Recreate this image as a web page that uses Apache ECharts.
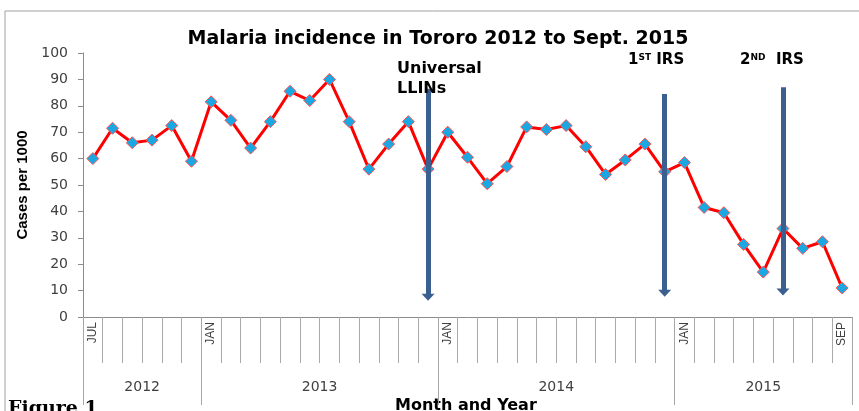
<!DOCTYPE html>
<html>
<head>
<meta charset="utf-8">
<script src="https://cdn.jsdelivr.net/npm/echarts@6/dist/echarts.min.js"></script>
<style>
  html, body { margin: 0; padding: 0; background: #fff; }
  #chart { width: 859px; height: 411px; }
</style>
</head>
<body>
<div id="chart"></div>
<script>
// months Jul 2012 .. Sep 2015
var monthNames = ['JUL','AUG','SEP','OCT','NOV','DEC',
  'JAN','FEB','MAR','APR','MAY','JUN','JUL','AUG','SEP','OCT','NOV','DEC',
  'JAN','FEB','MAR','APR','MAY','JUN','JUL','AUG','SEP','OCT','NOV','DEC',
  'JAN','FEB','MAR','APR','MAY','JUN','JUL','AUG','SEP']
var monthYears = [2012,2012,2012,2012,2012,2012,
  2013,2013,2013,2013,2013,2013,2013,2013,2013,2013,2013,2013,
  2014,2014,2014,2014,2014,2014,2014,2014,2014,2014,2014,2014,
  2015,2015,2015,2015,2015,2015,2015,2015,2015]
var shownMonthIdx = [0, 6, 18, 30, 38]

var incidence = [60, 71.5, 66, 67, 72.5, 59,
  81.5, 74.5, 64, 74, 85.5, 82, 90, 74, 56, 65.5, 74, 56,
  70, 60.5, 50.5, 57, 72, 71, 72.5, 64.5, 54, 59.5, 65.5, 55,
  58.5, 41.5, 39.5, 27.5, 17, 33.5, 26, 28.5, 11]

var years = ['2012', '2013', '2014', '2015']
var yearBounds = [0, 6, 18, 30, 39]
var yearCenters = [3, 12, 24, 34.5]

// interventions: category key, top, bottom (cases per 1000)
var interventions = [
  ['DEC 2013', 86.5, 7.5],
  ['DEC 2014', 84.5, 9],
  ['JUN 2015', 87, 9.5]
]

var categories = monthNames.map(function (m, i) { return m + ' ' + monthYears[i] })

var chart = echarts.init(document.getElementById('chart'))

var gray = '#8c8c8c'
var labelFont = 'DejaVu Sans'
var boldFont = 'DejaVu Sans'

var option = {
  animation: false,
  textStyle: { fontFamily: 'Liberation Sans' },
  title: {
    text: 'Malaria incidence in Tororo 2012 to Sept. 2015',
    left: 433, top: 25, textAlign: 'center',
    textStyle: { fontSize: 19, fontWeight: 'bold', color: '#000', fontFamily: boldFont }
  },
  grid: { left: 83, right: 7, top: 53, bottom: 94 },
  xAxis: [{
    type: 'category',
    data: categories,
    boundaryGap: true,
    axisLine: { show: true, lineStyle: { color: gray, width: 1 } },
    axisTick: { show: true, interval: 0, length: 46, lineStyle: { color: '#aaaaaa', width: 1 } },
    axisLabel: {
      interval: 0, rotate: 90, margin: 5,
      fontSize: 12, color: '#404040', fontFamily: 'Liberation Sans',
      formatter: function (v, i) { return shownMonthIdx.indexOf(i) >= 0 ? monthNames[i] : '' }
    },
    splitLine: { show: false }
  }, {
    type: 'value',
    min: 0, max: 39,
    position: 'bottom',
    axisLine: { show: false },
    axisTick: { show: true, length: 88, customValues: yearBounds, lineStyle: { color: '#a6a6a6' } },
    axisLabel: {
      customValues: yearCenters, margin: 63,
      fontSize: 14, color: '#404040', fontFamily: labelFont,
      formatter: function (v) { return years[yearCenters.indexOf(v)] }
    },
    splitLine: { show: false }
  }],
  yAxis: {
    type: 'value',
    min: 0, max: 100, interval: 10,
    name: 'Cases per 1000',
    nameLocation: 'middle',
    nameGap: 53,
    nameRotate: 90,
    nameTextStyle: { fontSize: 15, fontWeight: 'bold', color: '#000', fontFamily: 'Liberation Sans' },
    axisLine: { show: true, lineStyle: { color: gray } },
    axisTick: { show: true, length: 5, lineStyle: { color: gray } },
    axisLabel: { fontSize: 14, color: '#404040', fontFamily: labelFont, margin: 15 },
    splitLine: { show: false }
  },
  series: [{
    type: 'line',
    data: incidence,
    lineStyle: { color: '#ff0000', width: 3 },
    symbol: 'diamond',
    symbolSize: 12,
    showAllSymbol: true,
    itemStyle: { color: '#1aa7e2', borderColor: '#ff5050', borderWidth: 1 },
    z: 2
  }, {
    type: 'line',
    data: [],
    z: 5,
    markLine: {
      silent: true,
      symbol: ['none', 'triangle'],
      symbolSize: [13, 7],
      label: { show: false },
      lineStyle: { color: '#3b5f8f', width: 5, type: 'solid' },
      data: interventions.map(function (a) {
        return [{ coord: [a[0], a[1]] }, { coord: [a[0], a[2]] }]
      })
    }
  }],
  graphic: [
    { type: 'rect', shape: { x: 5, y: 11, width: 900, height: 450 }, style: { fill: 'none', stroke: '#a0a0a0', lineWidth: 1 }, z: -1 },
    { type: 'text', left: 397, top: 59, style: { text: 'Universal\nLLINs', font: 'bold 16px DejaVu Sans', fill: '#000', lineHeight: 20 }, z: 10 },
    { type: 'text', left: 628, top: 53, style: { text: '{n|1}{s|ST}{n| IRS}', rich: { n: { font: 'bold 15px DejaVu Sans', fill: '#000' }, s: { font: 'bold 9px DejaVu Sans', fill: '#000', verticalAlign: 'top', padding: [0, 0, 6, 0] } } }, z: 10 },
    { type: 'text', left: 740, top: 53, style: { text: '{n|2}{s|ND}{n|  IRS}', rich: { n: { font: 'bold 15px DejaVu Sans', fill: '#000' }, s: { font: 'bold 9px DejaVu Sans', fill: '#000', verticalAlign: 'top', padding: [0, 0, 6, 0] } } }, z: 10 },
    { type: 'text', left: 8, top: 400, style: { text: 'Figure 1', font: 'bold 19px DejaVu Serif', fill: '#000' } },
    { type: 'text', left: 395, top: 398, style: { text: 'Month and Year', font: 'bold 16px DejaVu Sans', fill: '#000' } }
  ]
}

chart.setOption(option)
</script>
</body>
</html>
